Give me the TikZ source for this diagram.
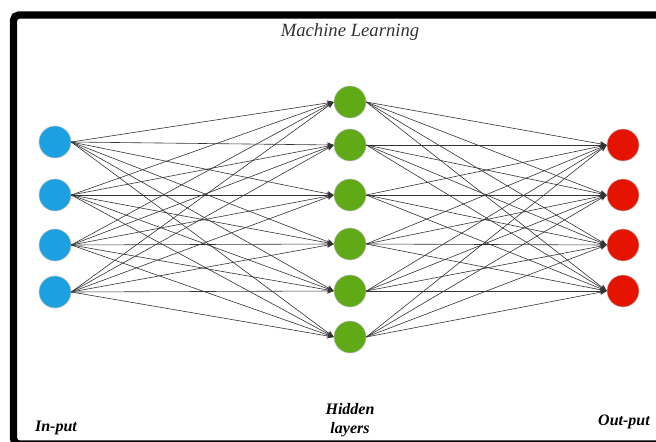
\documentclass[tikz,border=0pt]{standalone}
\usepackage{fontspec}
\setmainfont{Liberation Serif}
\usetikzlibrary{arrows.meta}
\definecolor{inblue}{HTML}{1BA1E2}
\definecolor{hidgreen}{HTML}{60A917}
\definecolor{outred}{HTML}{E51400}
\begin{document}
\begin{tikzpicture}[x=0.75pt,y=-0.75pt,
  neuron/.style={circle,minimum size=24pt,inner sep=0pt,draw=black!25,line width=0.4pt},
  conn/.style={draw=black!80,line width=0.45pt,-{Stealth[length=5pt,width=4pt]}},
  lbl/.style={font=\bfseries\itshape\fontsize{12}{14.5}\selectfont,align=center,inner sep=0pt}]
\useasboundingbox (0,0) rectangle (656,442);
\fill[white] (0,0) rectangle (656,442);
\begin{scope}
  \clip (0,0) rectangle (656,442);
  \draw[line width=5.5pt, rounded corners=4pt] (13.5,15) rectangle (680,444);
\end{scope}
% input layer
\foreach \i/\y in {1/142,2/195,3/245,4/292}
  \node[neuron,fill=inblue] (i\i) at (55,\y) {};
% hidden layer
\foreach \i/\y in {1/102,2/145,3/195,4/244,5/291,6/337}
  \node[neuron,fill=hidgreen] (h\i) at (350,\y) {};
% output layer
\foreach \i/\y in {1/145,2/195,3/245,4/291}
  \node[neuron,fill=outred] (o\i) at (623,\y) {};
% connections
\foreach \a in {1,...,4}
  \foreach \b in {1,...,6}
    \draw[conn] (i\a.east) -- (h\b.west);
\foreach \a in {1,...,6}
  \foreach \b in {1,...,4}
    \draw[conn] (h\a.east) -- (o\b.west);
% labels
\node[font=\itshape\fontsize{14}{16}\selectfont,text=black!80] (title) at (350,32) {Machine Learning};
\node[lbl] (inp) at (56,428) {In-put};
\node[lbl] (hid) at (350,420) {Hidden\\layers};
\node[lbl] (outp) at (624,422) {Out-put};
\end{tikzpicture}
\end{document}
